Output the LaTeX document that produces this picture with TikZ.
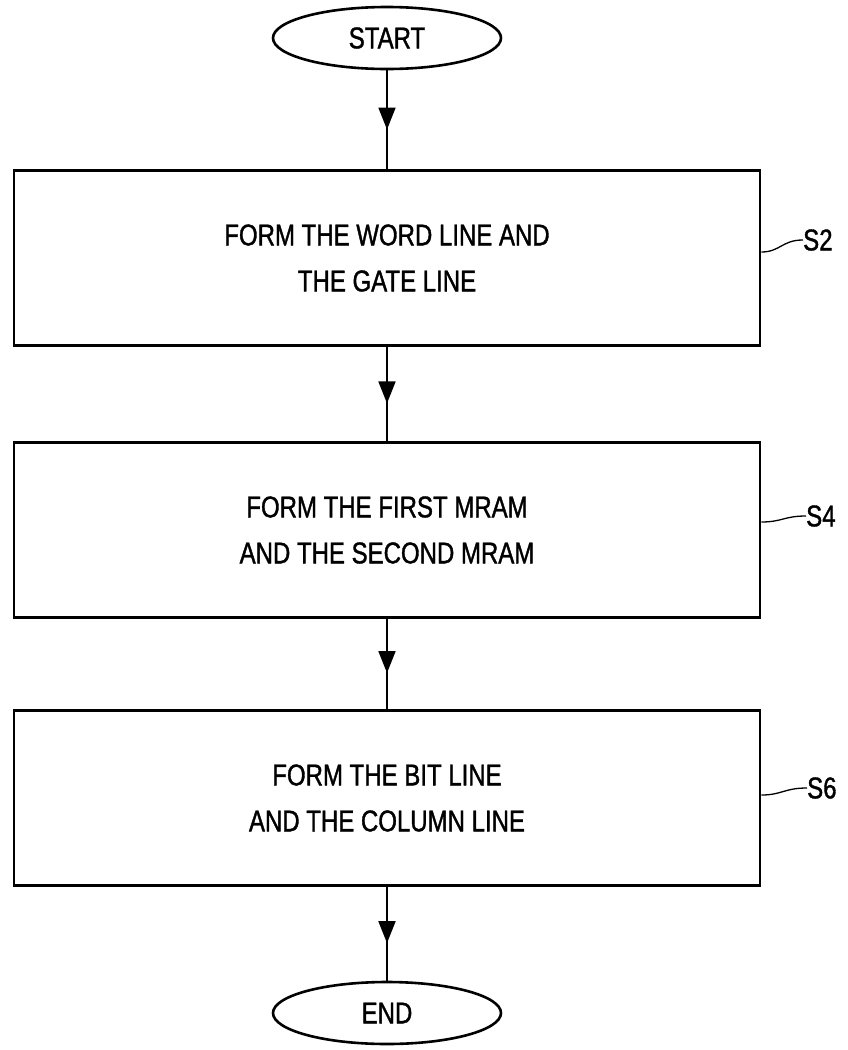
\documentclass[tikz,border=0pt]{standalone}
\usepackage{fontspec}
\setmainfont{Liberation Sans}[FakeStretch=0.8,FakeBold=1.2]
\usetikzlibrary{shapes.geometric,arrows.meta,decorations.markings}
\tikzset{
  stepbox/.style={draw, line width=2.8pt, rectangle, minimum width=746pt, minimum height=175pt, inner sep=0pt, align=center, font=\fontsize{30}{46}\selectfont},
  terminal/.style={draw, line width=2.6pt, ellipse, minimum width=228pt, minimum height=62pt, inner sep=0pt, font=\fontsize{30}{34}\selectfont},
  conn/.style={line width=1.8pt, postaction={decorate}, decoration={markings, mark=at position 0.6 with {\arrow{Triangle[length=22pt,width=17pt]}}}},
  leader/.style={line width=1.3pt},
  steplabel/.style={font=\fontsize{30}{34}\selectfont, inner sep=0pt, anchor=west}
}
\begin{document}
\begin{tikzpicture}[x=1pt,y=-1pt]
\useasboundingbox (0,0) rectangle (848,1050);
\node[terminal] (start) at (387,38) {START};
\node[stepbox] (b1) at (387,258) {FORM THE WORD LINE AND\\THE GATE LINE};
\node[stepbox] (b2) at (387,530) {FORM THE FIRST MRAM\\AND THE SECOND MRAM};
\node[stepbox] (b3) at (387,798) {FORM THE BIT LINE\\AND THE COLUMN LINE};
\node[terminal] (end) at (387,1013) {END};
\draw[conn] (start.south) -- (b1.north);
\draw[conn] (b1.south) -- (b2.north);
\draw[conn] (b2.south) -- (b3.north);
\draw[conn] (b3.south) -- (end.north);
\node[steplabel] (s2) at (803,240) {S2};
\node[steplabel] (s4) at (806,516) {S4};
\node[steplabel] (s6) at (807,788) {S6};
\draw[leader] (b1.east |- 0,252) .. controls (780,252) and (782,240) .. (s2.west);
\draw[leader] (b2.east |- 0,522) .. controls (782,522) and (784,516) .. (s4.west);
\draw[leader] (b3.east |- 0,795) .. controls (782,795) and (784,788) .. (s6.west);
\end{tikzpicture}
\end{document}
